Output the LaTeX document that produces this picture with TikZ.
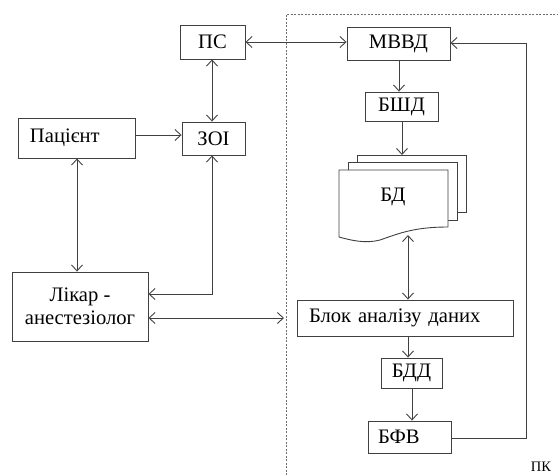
\documentclass[tikz,border=0pt]{standalone}
\usepackage{fontspec}
\setmainfont{Liberation Serif}
\newfontfamily\tnr{Liberation Serif}
\usetikzlibrary{arrows.meta}
\definecolor{ln}{HTML}{404040}
\definecolor{dl}{HTML}{707070}
\tikzset{
  txt/.style={font=\tnr\fontsize{20.6}{23.5}\selectfont, text=black},
  blk/.style={txt, draw=ln, line width=0.9pt, rectangle, inner sep=0pt},
  conn/.style={draw=ln, line width=0.9pt, -{Straight Barb[length=6pt,width=11pt]}},
  dconn/.style={draw=ln, line width=0.9pt, {Straight Barb[length=6pt,width=11pt]}-{Straight Barb[length=6pt,width=11pt]}},
  doc/.style={draw=ln, line width=0.9pt, fill=white},
}
\begin{document}
\begin{tikzpicture}[x=1pt,y=-1pt]
\useasboundingbox (0,0) rectangle (558,475);
% dashed PC boundary
\draw[dl, line width=0.8pt, dash pattern=on 2pt off 1.5pt] (286,475) -- (286,14) -- (558,14);
\node[font=\tnr\fontsize{14.5}{16}\selectfont] (pk) at (541,467) {ПК};

% left nodes
\node[blk, minimum width=65pt, minimum height=34pt] (ps) at (212.5,42) {ПС};
\node[blk, minimum width=63pt, minimum height=33pt] (zoi) at (213.5,138.5) {ЗОІ};
\node[blk, minimum width=117pt, minimum height=40pt, align=left, text width=93pt] (pat) at (76.5,138) {Пацієнт};
\node[blk, minimum width=136pt, minimum height=69pt, align=center] (lik) at (80,306.5) {Лікар -\\[0pt]анестезіолог};

% right nodes
\node[blk, minimum width=103pt, minimum height=33pt] (mvvd) at (398.5,43.5) {МВВД};
\node[blk, minimum width=73pt, minimum height=29pt] (bshd) at (401.5,106.5) {БШД};
% document stack
\draw[doc] (357,212) -- (357,155) -- (466,155) -- (466,212) -- cycle;
\draw[doc] (348,220) -- (348,162) -- (457,162) -- (457,220) -- cycle;
\draw[doc] (339,237) -- (339,170) -- (448,170) -- (448,227)
  .. controls (415,227) and (400,233) .. (380,240)
  .. controls (365,244) and (350,240) .. (339,237);
\node[txt] (bd) at (393,197) {БД};
\coordinate (bdtop) at (402,155);
\coordinate (bdbot) at (408,235);
\node[blk, minimum width=216pt, minimum height=36pt, align=left, text width=192pt] (blok) at (405,318) {Блок аналізу даних};
\node[blk, minimum width=61pt, minimum height=30pt] (bdd) at (411.5,373) {БДД};
\node[blk, minimum width=83pt, minimum height=32pt, align=left, text width=63pt] (bfv) at (409.5,437) {БФВ};

% connectors
\draw[dconn] (ps.south -| 212,0) -- (zoi.north -| 212,0);
\draw[conn] (pat.east |- 0,135) -- (zoi.west |- 0,135);
\draw[dconn] (pat.south -| 77,0) -- (lik.north -| 77,0);
\draw[dconn] (zoi.south -| 212,0) -- (212,294) -- (lik.east |- 0,294);
\coordinate (pcedge) at (284,318);
\draw[dconn] (lik.east |- 0,318) -- (pcedge);
\draw[dconn] (ps.east) -- (mvvd.west |- ps.east);
\draw[conn] (mvvd.south -| 399,0) -- (bshd.north -| 399,0);
\draw[conn] (bshd.south -| 402,0) -- (bdtop);
\draw[dconn] (bdbot) -- (blok.north -| bdbot);
\draw[conn] (blok.south -| 408,0) -- (bdd.north -| 408,0);
\draw[conn] (bdd.south -| 412,0) -- (bfv.north -| 412,0);
\draw[conn] (bfv.east |- 0,438) -- (526,438) -- (526,43) -- (mvvd.east |- 0,43);
\end{tikzpicture}
\end{document}
